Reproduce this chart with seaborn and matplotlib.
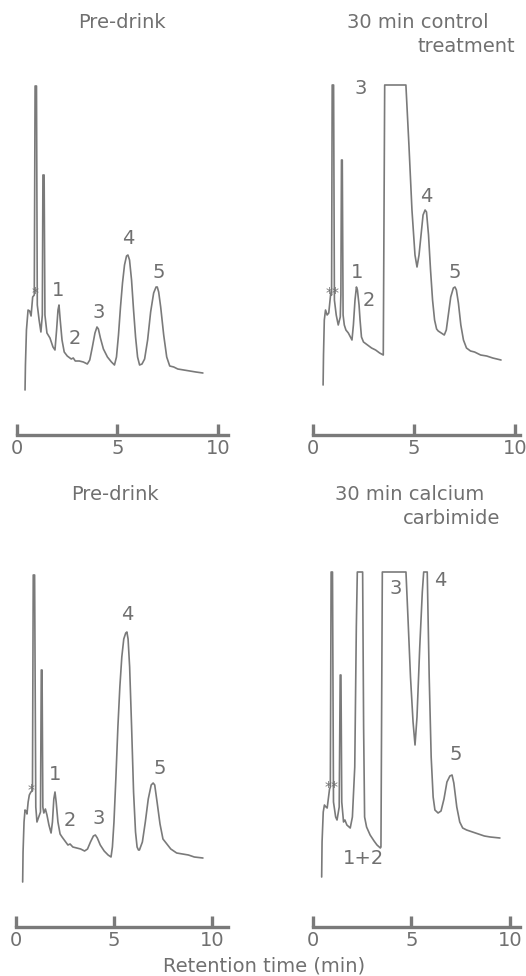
import matplotlib
matplotlib.use("Agg")
import matplotlib.pyplot as plt
import seaborn as sns
import pandas as pd

# ---------------- data ----------------
# Top-left: Pre-drink
tl_time = [0.40, 0.42, 0.47, 0.55, 0.63, 0.70, 0.78, 0.86, 0.90, 0.97, 1.01, 1.10, 1.19, 1.26, 1.29, 1.35,
           1.39, 1.49, 1.64, 1.79, 1.89, 1.97, 2.04, 2.09, 2.15, 2.24, 2.35, 2.5, 2.7, 2.8, 2.9, 3.1, 3.3, 3.5,
           3.62, 3.75, 3.88, 3.98, 4.05, 4.15, 4.3, 4.5, 4.7, 4.85, 4.95, 5.05, 5.15, 5.25, 5.35, 5.45,
           5.52, 5.6, 5.7, 5.8, 5.9, 6.0, 6.1, 6.22, 6.35, 6.5, 6.65, 6.8, 6.92, 6.98, 7.05, 7.15, 7.3,
           7.45, 7.6, 7.8, 8.0, 8.3, 8.6, 8.9, 9.25]
tl_signal = [4.5, 7.0, 10.5, 12.5, 12.4, 11.9, 13.8, 14.0, 34.9, 34.9, 13.0, 11.5, 10.3, 12.0, 26.0, 26.0,
             12.0, 10.2, 9.7, 8.8, 8.5, 10.5, 12.5, 13.0, 11.5, 9.5, 8.3, 7.9, 7.6, 7.7, 7.4, 7.4, 7.3, 7.1,
             7.5, 8.8, 10.2, 10.8, 10.6, 9.7, 8.6, 7.8, 7.3, 7.0, 7.8, 10.0, 12.8, 15.2, 17.0, 17.9,
             18.0, 17.5, 15.5, 12.5, 9.8, 7.8, 7.0, 7.1, 7.6, 9.5, 12.3, 14.2, 14.8, 14.8, 14.3, 12.8, 10.0,
             7.8, 6.9, 6.8, 6.6, 6.5, 6.4, 6.3, 6.2]

# Top-right: 30 min control treatment
tr_time = [0.50, 0.52, 0.56, 0.62, 0.70, 0.78, 0.88, 0.92, 0.95, 1.02, 1.06, 1.15, 1.25, 1.35, 1.38, 1.41,
           1.45, 1.49, 1.55, 1.63, 1.75, 1.93, 2.0, 2.08, 2.15, 2.2, 2.28, 2.33, 2.4, 2.5, 2.7, 2.9, 3.1, 3.3,
           3.48, 3.55, 4.6, 4.75, 4.9, 5.05, 5.15, 5.25, 5.35, 5.45, 5.55, 5.62, 5.72, 5.82, 5.92, 6.02,
           6.12, 6.2, 6.35, 6.5, 6.6, 6.7, 6.82, 6.95, 7.03, 7.1, 7.2, 7.32, 7.45, 7.6, 7.8, 8.0, 8.3,
           8.6, 8.9, 9.31]
tr_signal = [5.0, 8.0, 11.5, 12.5, 12.0, 12.2, 14.2, 14.0, 35.0, 35.0, 13.5, 12.0, 11.0, 11.8, 14.0, 27.5,
             27.5, 12.0, 11.0, 10.5, 10.2, 9.5, 11.0, 13.5, 14.8, 14.5, 13.0, 11.5, 9.8, 9.3, 9.0, 8.7, 8.5, 8.2,
             8.0, 35.0, 35.0, 29.0, 22.5, 18.0, 16.8, 18.0, 20.0, 22.0, 22.5, 22.3, 20.0, 16.5, 13.5, 11.5,
             10.6, 10.4, 10.2, 10.0, 10.5, 12.0, 13.8, 14.7, 14.8, 14.5, 13.2, 11.0, 9.5, 8.7, 8.4, 8.3, 8.0,
             7.9, 7.7, 7.5]

# Bottom-left: Pre-drink
bl_time = [0.34, 0.36, 0.41, 0.46, 0.52, 0.56, 0.62, 0.68, 0.76, 0.84, 0.88, 0.95, 1.01, 1.07, 1.25, 1.29,
           1.33, 1.37, 1.42, 1.50, 1.58, 1.68, 1.79, 1.86, 1.93, 1.99, 2.05, 2.14, 2.25, 2.35, 2.5, 2.65, 2.76,
           2.9, 3.1, 3.3, 3.5, 3.65, 3.8, 3.95, 4.05, 4.15, 4.3, 4.5, 4.7, 4.85, 4.92, 5.0, 5.1, 5.2, 5.3,
           5.4, 5.5, 5.6, 5.66, 5.72, 5.8, 5.9, 6.0, 6.1, 6.18, 6.25, 6.3, 6.45, 6.6, 6.75, 6.9, 7.0, 7.08,
           7.2, 7.35, 7.5, 7.7, 7.9, 8.2, 8.5, 8.8, 9.1, 9.54]
bl_signal = [4.5, 7.5, 10.5, 11.7, 11.6, 11.3, 12.5, 13.2, 13.5, 13.6, 35.2, 35.2, 12.0, 10.5, 11.5, 25.7,
             25.7, 12.0, 11.4, 11.8, 11.2, 10.2, 9.4, 10.5, 12.8, 13.5, 12.5, 10.5, 9.3, 9.0, 8.6, 8.2, 8.3,
             8.0, 7.9, 7.8, 7.6, 7.8, 8.5, 9.1, 9.2, 8.9, 8.2, 7.6, 7.2, 7.0, 8.0, 10.5, 15.0, 20.0, 24.0,
             27.0, 28.8, 29.4, 29.5, 28.8, 26.0, 20.0, 13.5, 9.5, 8.0, 7.7, 7.7, 8.5, 10.5, 12.8, 14.2, 14.4, 14.2,
             12.5, 10.3, 8.8, 8.3, 7.8, 7.4, 7.3, 7.2, 7.0, 6.9]

# Bottom-right: 30 min calcium carbimide
br_time = [0.44, 0.46, 0.52, 0.58, 0.66, 0.72, 0.84, 0.88, 0.92, 0.99, 1.04, 1.15, 1.22, 1.33, 1.38, 1.42,
           1.46, 1.55, 1.62, 1.72, 1.89, 2.0, 2.12, 2.2, 2.25, 2.52, 2.57, 2.62, 2.72, 2.9, 3.1, 3.25, 3.42,
           3.45, 3.52, 4.72, 4.82, 4.95, 5.08, 5.18, 5.28, 5.42, 5.55, 5.62, 5.8, 5.9, 6.0, 6.1, 6.19,
           6.35, 6.5, 6.65, 6.8, 6.95, 7.06, 7.15, 7.3, 7.45, 7.6, 7.8, 8.1, 8.4, 8.7, 9.0, 9.49]
br_signal = [5.0, 8.5, 11.5, 12.2, 12.0, 11.9, 13.8, 14.0, 35.5, 35.5, 12.5, 11.0, 10.7, 12.0, 25.2, 25.2,
             12.5, 10.5, 10.7, 10.2, 9.9, 11.0, 16.0, 30.0, 35.5, 35.5, 20.0, 11.0, 10.0, 9.2, 8.6, 8.2, 7.9,
             8.0, 35.5, 35.5, 31.0, 25.0, 20.5, 18.2, 21.0, 28.0, 33.5, 35.5, 35.5, 25.0, 17.0, 13.0, 11.7,
             11.4, 11.6, 12.8, 14.5, 15.1, 15.2, 14.4, 12.0, 10.5, 9.9, 9.7, 9.5, 9.3, 9.1, 9.0, 8.9]

# Peak labels (text, time, signal)
tl_labels = ["1", "2", "3", "4", "5", "*"]
tl_label_t = [2.04, 2.89, 4.08, 5.52, 7.06, 0.90]
tl_label_s = [14.5, 9.7, 12.3, 19.7, 16.3, 14.2]

tr_labels = ["3", "4", "5", "1", "2", "**"]
tr_label_t = [2.38, 5.59, 7.03, 2.18, 2.77, 0.99]
tr_label_s = [34.6, 23.8, 16.2, 16.2, 13.5, 14.2]

bl_labels = ["1", "2", "3", "4", "5", "*"]
bl_label_t = [1.99, 2.76, 4.23, 5.66, 7.35, 0.77]
bl_label_s = [15.2, 10.7, 10.9, 31.2, 15.9, 13.7]

br_labels = ["3", "4", "5", "1+2", "**"]
br_label_t = [4.21, 6.45, 7.26, 2.54, 0.95]
br_label_s = [33.9, 34.7, 17.2, 6.9, 14.0]

tick_values = [0, 5, 10]
tick_labels = ["0", "5", "10"]
x_label = "Retention time (min)"

# ---------------- styling ----------------
sns.set_theme(style="white")
plt.rcParams['font.family'] = ['DejaVu Sans']

W, H = 526, 976
fig = plt.figure(figsize=(W / 100, H / 100), dpi=100)
LINE = "#7a7a7a"
TEXT = "#707070"
FS = 14


def make_axes(left_px, axis_y_px, width_px, xmax):
    height_px = 360
    ax = fig.add_axes([left_px / W, 1 - axis_y_px / H, width_px / W, height_px / H])
    ax.set_xlim(0, xmax)
    ax.set_ylim(0, 36)
    for side in ("left", "top", "right"):
        ax.spines[side].set_visible(False)
    ax.spines["bottom"].set_color(LINE)
    ax.spines["bottom"].set_linewidth(2.4)
    ax.set_xticks(tick_values)
    ax.set_xticklabels(tick_labels)
    ax.tick_params(axis="x", direction="in", length=8, width=2.4, color=LINE,
                   labelsize=FS, labelcolor=TEXT, pad=3, bottom=True)
    ax.set_yticks([])
    ax.set_xlabel("")
    ax.set_ylabel("")
    ax.patch.set_alpha(0)
    return ax


def draw(ax, t, s, labels, lt, ls):
    df = pd.DataFrame({"time": t, "signal": s})
    sns.lineplot(data=df, x="time", y="signal", ax=ax, sort=False, estimator=None,
                 color=LINE, linewidth=1.2)
    for txt, x, y in zip(labels, lt, ls):
        size = 10 if "*" in txt else FS
        ax.text(x, y, txt, ha="center", va="center", fontsize=size, color=TEXT)
    ax.set_xlabel("")
    ax.set_ylabel("")


ax_tl = make_axes(17, 435, 211, 10.5)
ax_tr = make_axes(313, 435, 207, 10.25)
ax_bl = make_axes(16, 927, 212, 10.82)
ax_br = make_axes(313, 927, 207, 10.51)

draw(ax_tl, tl_time, tl_signal, tl_labels, tl_label_t, tl_label_s)
draw(ax_tr, tr_time, tr_signal, tr_labels, tr_label_t, tr_label_s)
draw(ax_bl, bl_time, bl_signal, bl_labels, bl_label_t, bl_label_s)
draw(ax_br, br_time, br_signal, br_labels, br_label_t, br_label_s)


def ftext(x_px, y_px, s, ha):
    fig.text(x_px / W, 1 - y_px / H, s, ha=ha, va="center", fontsize=FS, color=TEXT)


ftext(122, 23, "Pre-drink", "center")
ftext(347, 23, "30 min control", "left")
ftext(515, 47, "treatment", "right")
ftext(115, 495, "Pre-drink", "center")
ftext(335, 495, "30 min calcium", "left")
ftext(500, 518, "carbimide", "right")
ftext(264, 966, x_label, "center")

fig.savefig("out.png", dpi=100, facecolor="white")
